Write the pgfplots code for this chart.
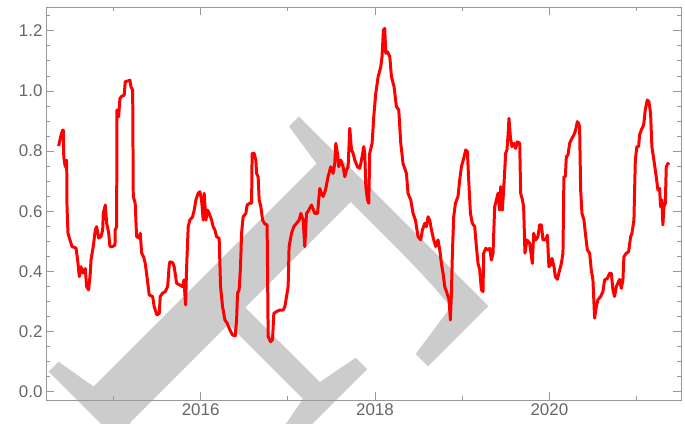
\documentclass[border=0pt]{standalone}
\usepackage{pgfplots}
\pgfplotsset{compat=1.18}
\usepackage{fontspec}
\setmainfont{Liberation Sans}
\newfontfamily\wmfont{Liberation Serif}
\definecolor{framegray}{HTML}{999999}
\definecolor{labelgray}{HTML}{666666}
\definecolor{wm}{HTML}{CCCCCC}
\begin{document}
\begin{tikzpicture}
\path[use as bounding box] (-46bp,-24bp) rectangle (639bp,400bp);
\node[text=wm, anchor=base west, rotate=-45, inner sep=0pt, font=\wmfont\fontsize{548}{548}\selectfont] at (-10.5bp,41.5bp) {F};
\begin{axis}[
  at={(0,0)}, anchor=south west,
  scale only axis, width=635bp, height=393bp,
  xmin=2014.227, xmax=2021.51, ymin=-0.027, ymax=1.279,
  axis line style={framegray, line width=0.8pt},
  xtick={2016,2018,2020}, xticklabels={2016,2018,2020},
  minor xtick={2015,2017,2019,2021},
  ytick={0,0.2,0.4,0.6,0.8,1.0,1.2},
  minor ytick={0.05,0.1,0.15,0.25,0.3,0.35,0.45,0.5,0.55,0.65,0.7,0.75,0.85,0.9,0.95,1.05,1.1,1.15,1.25},
  tick align=inside,
  major tick length=8bp, minor tick length=4.5bp,
  every tick/.style={framegray, line width=0.8pt},
  ticklabel style={font=\fontsize{17}{17}\selectfont, text=labelgray},
  /pgf/number format/assume math mode=true,
  yticklabel style={/pgf/number format/.cd, fixed, fixed zerofill, precision=1},
]
\addplot[red, line width=3pt, line join=round] coordinates {
(2014.372,0.817)(2014.399,0.853)(2014.418,0.870)(2014.425,0.870)(2014.431,0.780)
(2014.448,0.748)(2014.464,0.770)(2014.468,0.615)(2014.479,0.527)(2014.502,0.505)
(2014.525,0.483)(2014.571,0.478)(2014.590,0.438)(2014.609,0.383)(2014.628,0.416)
(2014.648,0.395)(2014.677,0.410)(2014.693,0.350)(2014.716,0.339)(2014.735,0.395)
(2014.743,0.438)(2014.769,0.483)(2014.792,0.538)(2014.808,0.549)(2014.831,0.511)
(2014.857,0.516)(2014.877,0.538)(2014.884,0.594)(2014.907,0.621)(2014.923,0.561)
(2014.946,0.527)(2014.960,0.483)(2014.991,0.483)(2015.018,0.488)(2015.021,0.538)
(2015.037,0.549)(2015.041,0.937)(2015.060,0.914)(2015.075,0.975)(2015.098,0.983)
(2015.124,0.986)(2015.136,1.031)(2015.163,1.033)(2015.190,1.036)(2015.201,1.014)
(2015.221,1.003)(2015.228,0.649)(2015.250,0.627)(2015.266,0.516)(2015.296,0.511)
(2015.308,0.527)(2015.324,0.461)(2015.347,0.448)(2015.365,0.427)(2015.385,0.383)
(2015.411,0.322)(2015.450,0.317)(2015.468,0.283)(2015.499,0.256)(2015.526,0.261)
(2015.537,0.317)(2015.564,0.328)(2015.594,0.333)(2015.622,0.350)(2015.640,0.420)
(2015.648,0.432)(2015.679,0.430)(2015.697,0.416)(2015.725,0.361)(2015.763,0.355)
(2015.794,0.350)(2015.809,0.372)(2015.828,0.289)(2015.840,0.416)(2015.858,0.549)
(2015.877,0.571)(2015.908,0.582)(2015.927,0.604)(2015.946,0.638)(2015.972,0.660)
(2015.992,0.665)(2016.011,0.638)(2016.030,0.571)(2016.041,0.660)(2016.061,0.571)
(2016.080,0.604)(2016.099,0.593)(2016.126,0.571)(2016.144,0.549)(2016.164,0.538)
(2016.183,0.516)(2016.213,0.510)(2016.229,0.350)(2016.252,0.283)(2016.279,0.239)
(2016.305,0.228)(2016.336,0.206)(2016.367,0.189)(2016.397,0.186)(2016.413,0.239)
(2016.424,0.328)(2016.442,0.339)(2016.458,0.416)(2016.470,0.527)(2016.488,0.582)
(2016.519,0.593)(2016.534,0.621)(2016.565,0.627)(2016.585,0.627)(2016.591,0.793)
(2016.614,0.793)(2016.634,0.770)(2016.642,0.726)(2016.660,0.715)(2016.672,0.638)
(2016.691,0.615)(2016.711,0.571)(2016.737,0.558)(2016.763,0.555)(2016.775,0.184)
(2016.802,0.167)(2016.825,0.173)(2016.840,0.261)(2016.871,0.267)(2016.909,0.272)
(2016.947,0.272)(2016.966,0.283)(2016.986,0.317)(2017.004,0.350)(2017.015,0.483)
(2017.043,0.527)(2017.069,0.549)(2017.100,0.560)(2017.130,0.571)(2017.150,0.593)
(2017.176,0.571)(2017.195,0.483)(2017.215,0.593)(2017.241,0.604)(2017.272,0.621)
(2017.310,0.593)(2017.341,0.593)(2017.367,0.676)(2017.387,0.660)(2017.405,0.649)
(2017.433,0.671)(2017.462,0.715)(2017.493,0.748)(2017.520,0.726)(2017.539,0.759)
(2017.551,0.826)(2017.570,0.793)(2017.585,0.748)(2017.608,0.770)(2017.634,0.748)
(2017.654,0.715)(2017.673,0.737)(2017.692,0.748)(2017.711,0.876)(2017.731,0.804)
(2017.749,0.793)(2017.769,0.770)(2017.799,0.748)(2017.826,0.743)(2017.845,0.770)
(2017.872,0.815)(2017.883,0.793)(2017.895,0.682)(2017.914,0.638)(2017.929,0.627)
(2017.940,0.793)(2017.967,0.826)(2017.986,0.914)(2018.009,0.992)(2018.036,1.047)
(2018.066,1.080)(2018.081,1.114)(2018.097,1.202)(2018.112,1.208)(2018.124,1.125)
(2018.143,1.130)(2018.170,1.114)(2018.189,1.047)(2018.219,1.014)(2018.246,0.948)
(2018.273,0.937)(2018.296,0.826)(2018.322,0.759)(2018.361,0.726)(2018.379,0.660)
(2018.410,0.638)(2018.437,0.593)(2018.464,0.571)(2018.494,0.516)(2018.525,0.505)
(2018.544,0.538)(2018.571,0.560)(2018.590,0.549)(2018.609,0.582)(2018.628,0.571)
(2018.648,0.538)(2018.674,0.505)(2018.697,0.483)(2018.723,0.505)(2018.743,0.472)
(2018.762,0.427)(2018.781,0.394)(2018.800,0.350)(2018.826,0.328)(2018.849,0.306)
(2018.865,0.239)(2018.877,0.328)(2018.888,0.461)(2018.903,0.582)(2018.923,0.627)
(2018.952,0.649)(2018.972,0.704)(2018.991,0.748)(2019.018,0.776)(2019.041,0.804)
(2019.060,0.798)(2019.075,0.704)(2019.095,0.593)(2019.117,0.560)(2019.144,0.549)
(2019.163,0.483)(2019.182,0.427)(2019.201,0.405)(2019.221,0.339)(2019.239,0.333)
(2019.247,0.461)(2019.270,0.477)(2019.296,0.472)(2019.316,0.477)(2019.335,0.438)
(2019.354,0.461)(2019.373,0.615)(2019.393,0.638)(2019.411,0.660)(2019.430,0.604)
(2019.442,0.682)(2019.461,0.604)(2019.480,0.693)(2019.499,0.793)(2019.514,0.804)
(2019.525,0.848)(2019.537,0.909)(2019.553,0.848)(2019.571,0.815)(2019.594,0.826)
(2019.614,0.809)(2019.633,0.831)(2019.660,0.826)(2019.671,0.660)(2019.691,0.638)
(2019.705,0.615)(2019.720,0.461)(2019.743,0.505)(2019.774,0.494)(2019.805,0.427)
(2019.820,0.527)(2019.843,0.505)(2019.869,0.516)(2019.889,0.555)(2019.908,0.555)
(2019.927,0.505)(2019.958,0.505)(2019.977,0.521)(2019.995,0.416)(2020.015,0.422)
(2020.030,0.444)(2020.053,0.416)(2020.069,0.383)(2020.092,0.374)(2020.118,0.405)
(2020.138,0.427)(2020.156,0.461)(2020.167,0.715)(2020.183,0.715)(2020.195,0.782)
(2020.213,0.787)(2020.233,0.826)(2020.259,0.843)(2020.282,0.854)(2020.301,0.870)
(2020.321,0.898)(2020.336,0.892)(2020.347,0.881)(2020.359,0.671)(2020.374,0.593)
(2020.397,0.571)(2020.413,0.527)(2020.436,0.472)(2020.462,0.461)(2020.481,0.405)
(2020.500,0.372)(2020.519,0.245)(2020.539,0.283)(2020.557,0.306)(2020.588,0.317)
(2020.614,0.333)(2020.634,0.372)(2020.665,0.377)(2020.691,0.394)(2020.711,0.394)
(2020.729,0.339)(2020.748,0.317)(2020.768,0.350)(2020.786,0.361)(2020.806,0.374)
(2020.825,0.344)(2020.844,0.372)(2020.855,0.449)(2020.883,0.461)(2020.909,0.466)
(2020.932,0.516)(2020.947,0.527)(2020.970,0.571)(2020.986,0.770)(2021.004,0.815)
(2021.024,0.815)(2021.035,0.854)(2021.054,0.870)(2021.073,0.881)(2021.084,0.892)
(2021.100,0.937)(2021.123,0.970)(2021.142,0.964)(2021.161,0.926)(2021.176,0.815)
(2021.199,0.770)(2021.226,0.715)(2021.245,0.671)(2021.264,0.676)(2021.276,0.615)
(2021.291,0.638)(2021.302,0.555)(2021.314,0.615)(2021.330,0.627)(2021.341,0.748)
(2021.359,0.759)(2021.371,0.754)
};
\end{axis}
\end{tikzpicture}
\end{document}
